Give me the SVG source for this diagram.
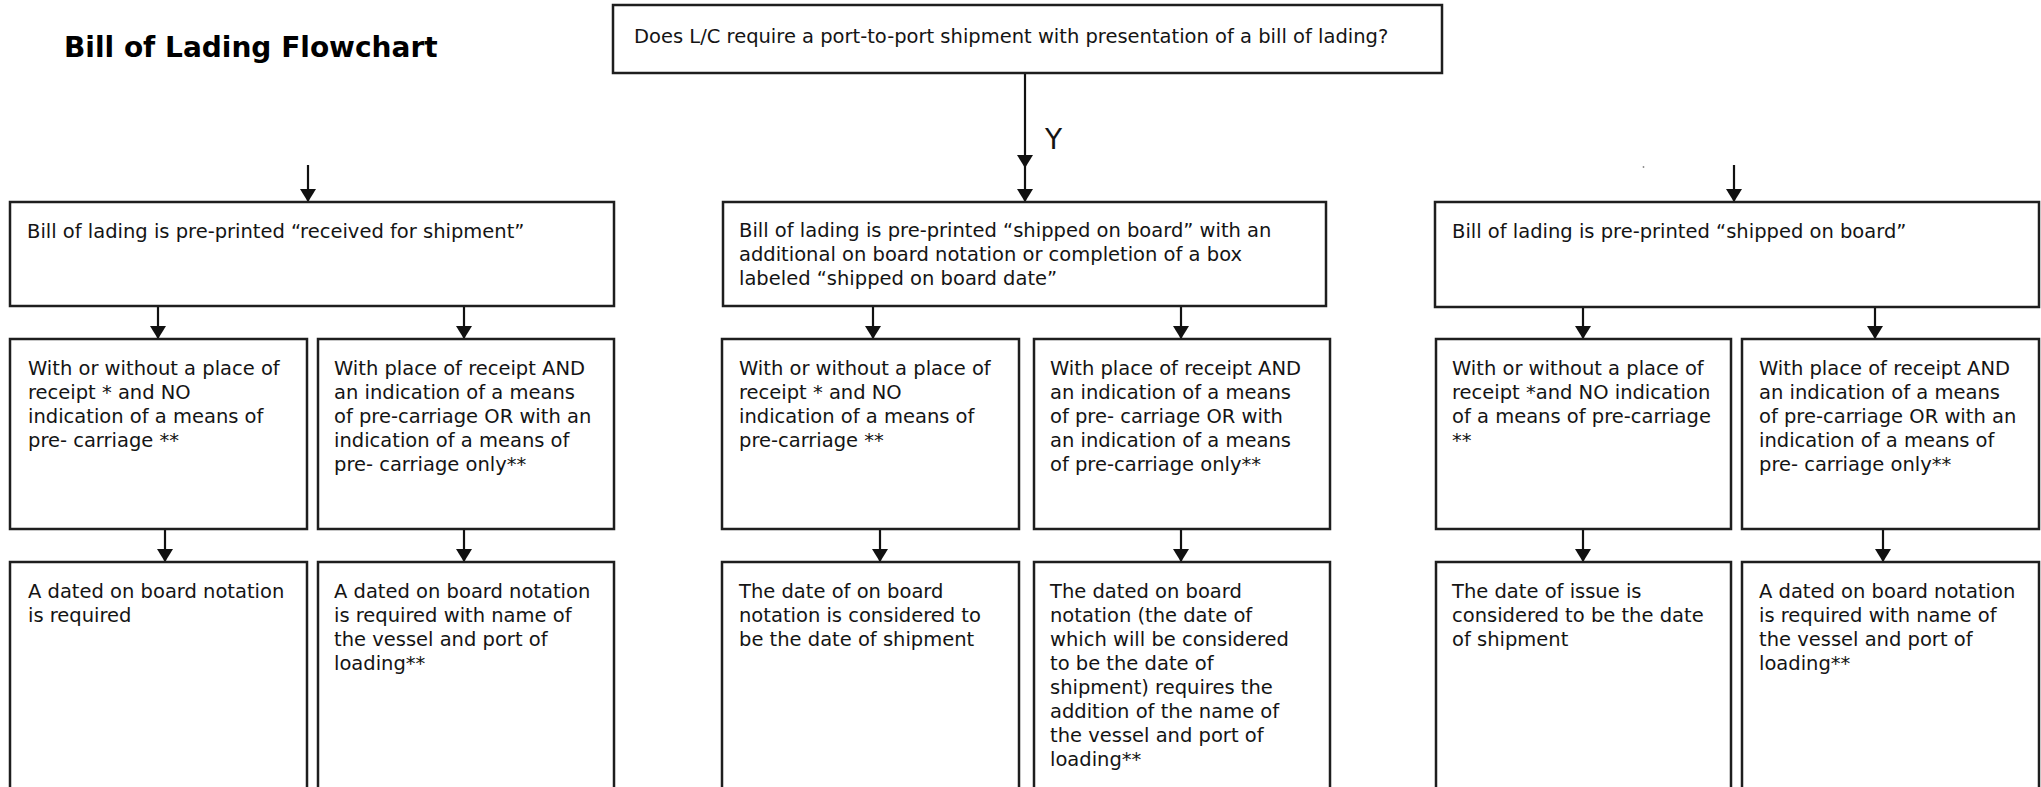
<svg xmlns="http://www.w3.org/2000/svg" width="2041" height="787" viewBox="0 0 2041 787">
<defs>
<marker id="ah" markerUnits="userSpaceOnUse" markerWidth="18" markerHeight="18" viewBox="0 0 18 18" refX="13" refY="9" orient="auto">
<path d="M0,1 L13,9 L0,17 Z" fill="#111"/>
</marker>
</defs>
<style>
.box{fill:#fff;stroke:#1e1e1e;stroke-width:2.5}
.t{font-family:"DejaVu Sans",sans-serif;font-size:19.5px;fill:#141414}
.title{font-family:"DejaVu Sans",sans-serif;font-size:28px;font-weight:bold;fill:#000}
.lbl{font-family:"DejaVu Sans",sans-serif;font-size:28px;fill:#141414}
.c{fill:none;stroke:#111;stroke-width:2.2;marker-end:url(#ah)}
</style>
<rect width="2041" height="787" fill="#fff"/>
<text class="title" x="64" y="57">Bill of Lading Flowchart</text>

<g id="connectors">
<path class="c" d="M1025,73 L1025,168 L1025,202" style="marker-mid:url(#ah)"/>
<path class="c" d="M308,165 L308,202"/>
<path class="c" d="M1734,165 L1734,202"/>
<path class="c" d="M158,306 L158,339"/>
<path class="c" d="M464,306 L464,339"/>
<path class="c" d="M165,529 L165,562"/>
<path class="c" d="M464,529 L464,562"/>
<path class="c" d="M873,306 L873,339"/>
<path class="c" d="M1181,306 L1181,339"/>
<path class="c" d="M880,529 L880,562"/>
<path class="c" d="M1181,529 L1181,562"/>
<path class="c" d="M1583,306 L1583,339"/>
<path class="c" d="M1875,306 L1875,339"/>
<path class="c" d="M1583,529 L1583,562"/>
<path class="c" d="M1883,529 L1883,562"/>
<text class="lbl" x="1045" y="149">Y</text>
<circle cx="1643.5" cy="167" r="0.9" fill="#888"/>
</g>

<g id="q">
<rect class="box" x="613" y="5" width="829" height="68"/>
<text class="t" x="634" y="43">Does L/C require a port-to-port shipment with presentation of a bill of lading?</text>
</g>

<g id="l0">
<rect class="box" x="10" y="202" width="604" height="104"/>
<text class="t" x="27" y="238">Bill of lading is pre-printed “received for shipment”</text>
</g>
<g id="m0">
<rect class="box" x="723" y="202" width="603" height="104"/>
<text class="t"><tspan x="739" y="237">Bill of lading is pre-printed “shipped on board” with an</tspan><tspan x="739" y="261">additional on board notation or completion of a box</tspan><tspan x="739" y="285">labeled “shipped on board date”</tspan></text>
</g>
<g id="r0">
<rect class="box" x="1435" y="202" width="604" height="105"/>
<text class="t" x="1452" y="238">Bill of lading is pre-printed “shipped on board”</text>
</g>

<g id="l1a">
<rect class="box" x="10" y="339" width="297" height="190"/>
<text class="t"><tspan x="28" y="375">With or without a place of</tspan><tspan x="28" y="399">receipt * and NO</tspan><tspan x="28" y="423">indication of a means of</tspan><tspan x="28" y="447">pre- carriage **</tspan></text>
</g>
<g id="l1b">
<rect class="box" x="318" y="339" width="296" height="190"/>
<text class="t"><tspan x="334" y="375">With place of receipt AND</tspan><tspan x="334" y="399">an indication of a means</tspan><tspan x="334" y="423">of pre-carriage OR with an</tspan><tspan x="334" y="447">indication of a means of</tspan><tspan x="334" y="471">pre- carriage only**</tspan></text>
</g>
<g id="m1a">
<rect class="box" x="722" y="339" width="297" height="190"/>
<text class="t"><tspan x="739" y="375">With or without a place of</tspan><tspan x="739" y="399">receipt * and NO</tspan><tspan x="739" y="423">indication of a means of</tspan><tspan x="739" y="447">pre-carriage **</tspan></text>
</g>
<g id="m1b">
<rect class="box" x="1034" y="339" width="296" height="190"/>
<text class="t"><tspan x="1050" y="375">With place of receipt AND</tspan><tspan x="1050" y="399">an indication of a means</tspan><tspan x="1050" y="423">of pre- carriage OR with</tspan><tspan x="1050" y="447">an indication of a means</tspan><tspan x="1050" y="471">of pre-carriage only**</tspan></text>
</g>
<g id="r1a">
<rect class="box" x="1436" y="339" width="295" height="190"/>
<text class="t"><tspan x="1452" y="375">With or without a place of</tspan><tspan x="1452" y="399">receipt *and NO indication</tspan><tspan x="1452" y="423">of a means of pre-carriage</tspan><tspan x="1452" y="447">**</tspan></text>
</g>
<g id="r1b">
<rect class="box" x="1742" y="339" width="297" height="190"/>
<text class="t"><tspan x="1759" y="375">With place of receipt AND</tspan><tspan x="1759" y="399">an indication of a means</tspan><tspan x="1759" y="423">of pre-carriage OR with an</tspan><tspan x="1759" y="447">indication of a means of</tspan><tspan x="1759" y="471">pre- carriage only**</tspan></text>
</g>

<g id="l2a">
<rect class="box" x="10" y="562" width="297" height="260"/>
<text class="t"><tspan x="28" y="598">A dated on board notation</tspan><tspan x="28" y="622">is required</tspan></text>
</g>
<g id="l2b">
<rect class="box" x="318" y="562" width="296" height="260"/>
<text class="t"><tspan x="334" y="598">A dated on board notation</tspan><tspan x="334" y="622">is required with name of</tspan><tspan x="334" y="646">the vessel and port of</tspan><tspan x="334" y="670">loading**</tspan></text>
</g>
<g id="m2a">
<rect class="box" x="722" y="562" width="297" height="260"/>
<text class="t"><tspan x="739" y="598">The date of on board</tspan><tspan x="739" y="622">notation is considered to</tspan><tspan x="739" y="646">be the date of shipment</tspan></text>
</g>
<g id="m2b">
<rect class="box" x="1034" y="562" width="296" height="260"/>
<text class="t"><tspan x="1050" y="598">The dated on board</tspan><tspan x="1050" y="622">notation (the date of</tspan><tspan x="1050" y="646">which will be considered</tspan><tspan x="1050" y="670">to be the date of</tspan><tspan x="1050" y="694">shipment) requires the</tspan><tspan x="1050" y="718">addition of the name of</tspan><tspan x="1050" y="742">the vessel and port of</tspan><tspan x="1050" y="766">loading**</tspan></text>
</g>
<g id="r2a">
<rect class="box" x="1436" y="562" width="295" height="260"/>
<text class="t"><tspan x="1452" y="598">The date of issue is</tspan><tspan x="1452" y="622">considered to be the date</tspan><tspan x="1452" y="646">of shipment</tspan></text>
</g>
<g id="r2b">
<rect class="box" x="1742" y="562" width="297" height="260"/>
<text class="t"><tspan x="1759" y="598">A dated on board notation</tspan><tspan x="1759" y="622">is required with name of</tspan><tspan x="1759" y="646">the vessel and port of</tspan><tspan x="1759" y="670">loading**</tspan></text>
</g>
</svg>
